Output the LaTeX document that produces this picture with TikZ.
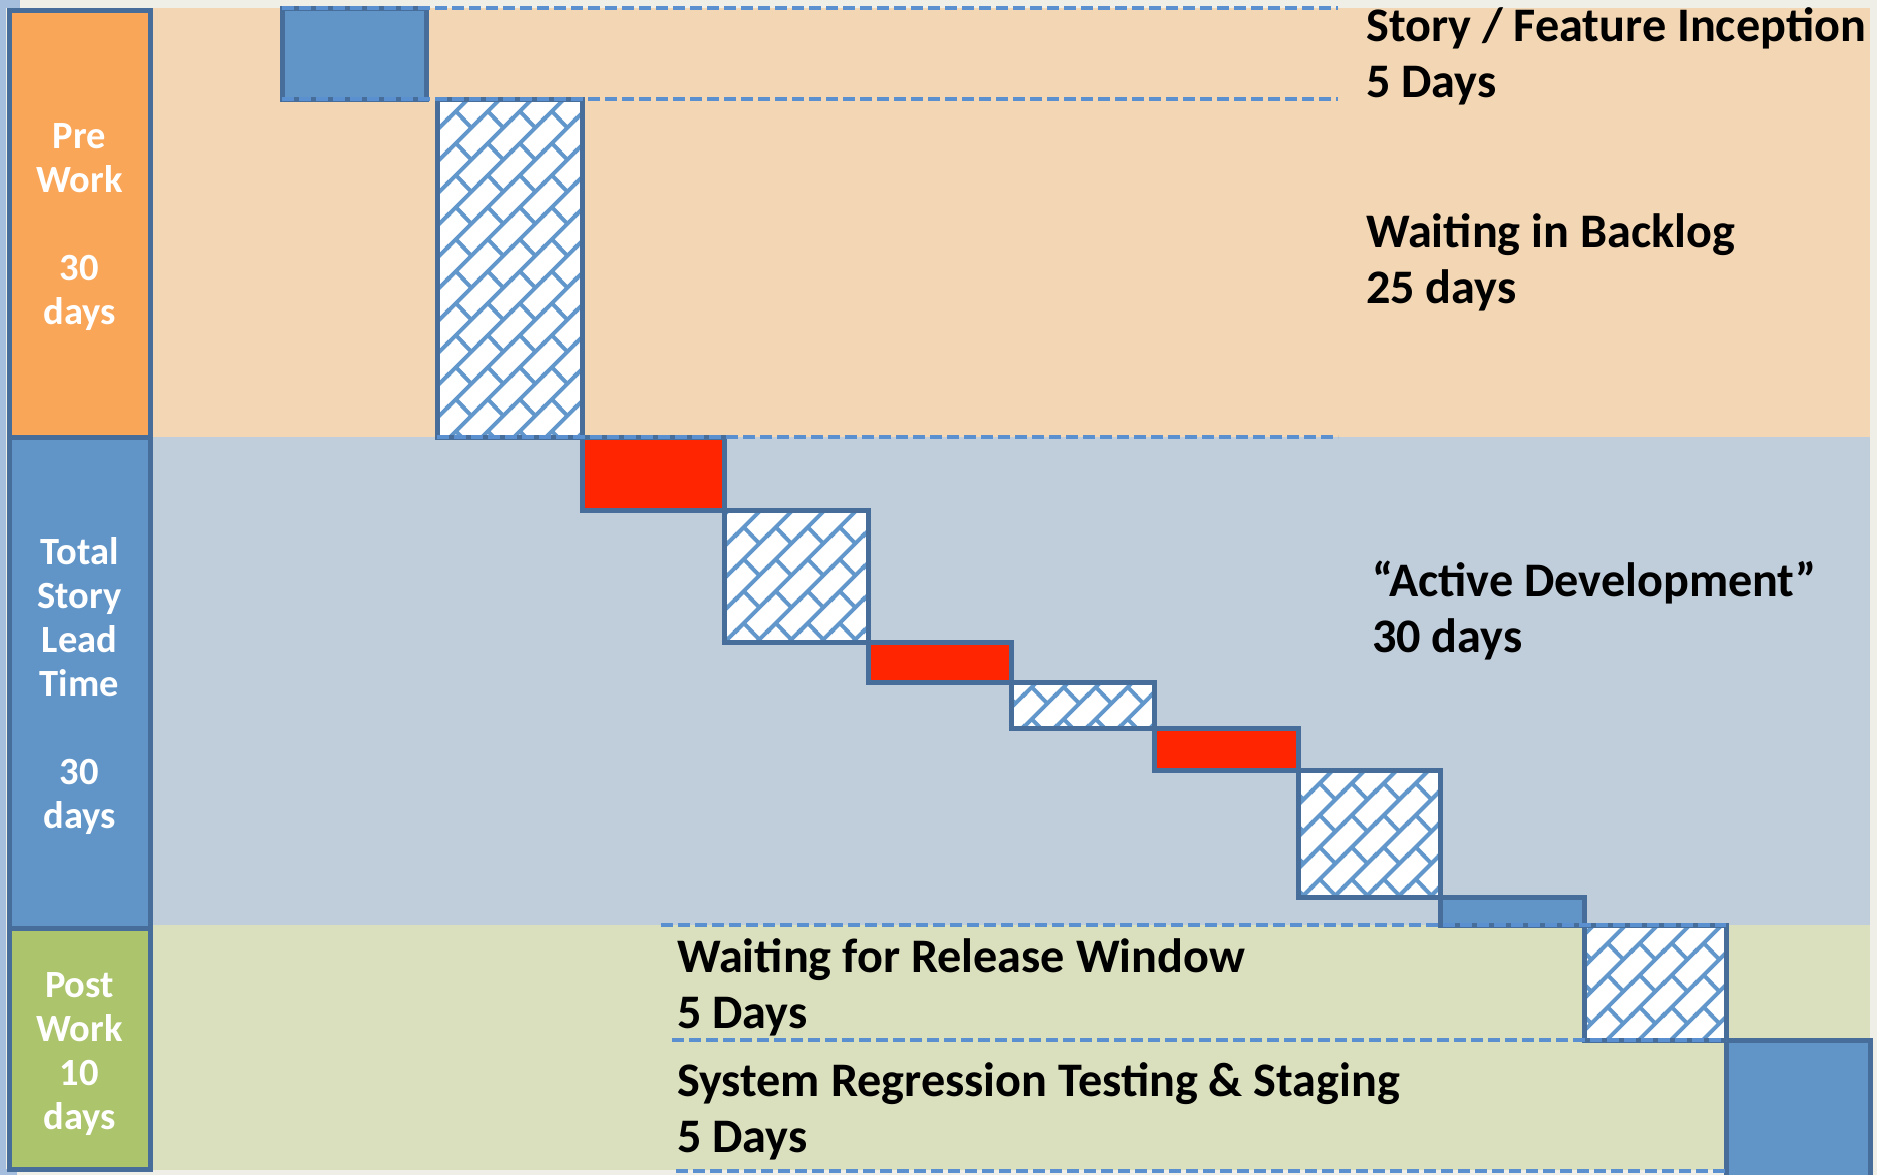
\documentclass[tikz,border=0pt]{standalone}
\usepackage{fontspec}
\setmainfont{Carlito}
\usetikzlibrary{patterns}

\definecolor{bgGray}{HTML}{EFEFE8}
\definecolor{edgeBlue}{HTML}{A5BEDE}
\definecolor{prePeach}{HTML}{F3D7B4}
\definecolor{devGray}{HTML}{C0CDDA}
\definecolor{postSage}{HTML}{DAE0BE}
\definecolor{preOrange}{HTML}{F9A659}
\definecolor{midBlue}{HTML}{6195C8}
\definecolor{postGreen}{HTML}{ACC46C}
\definecolor{frameBlue}{HTML}{476E9B}
\definecolor{workRed}{HTML}{FF2500}
\definecolor{hatchBlue}{HTML}{6297CC}
\definecolor{guideBlue}{HTML}{5B90D0}

% shingle hatch: 45-degree strokes joined by staggered cross ties
\pgfdeclarepatternformonly{shingle}{\pgfpointorigin}{\pgfpoint{32pt}{32pt}}{\pgfpoint{32pt}{32pt}}{
  \pgfsetlinewidth{4pt}
  \pgfpathmoveto{\pgfpoint{-4pt}{-4pt}}\pgfpathlineto{\pgfpoint{36pt}{36pt}}
  \pgfpathmoveto{\pgfpoint{28pt}{-4pt}}\pgfpathlineto{\pgfpoint{36pt}{4pt}}
  \pgfpathmoveto{\pgfpoint{-4pt}{28pt}}\pgfpathlineto{\pgfpoint{4pt}{36pt}}
  \pgfpathmoveto{\pgfpoint{8pt}{8pt}}\pgfpathlineto{\pgfpoint{24pt}{-8pt}}
  \pgfpathmoveto{\pgfpoint{8pt}{40pt}}\pgfpathlineto{\pgfpoint{24pt}{24pt}}
  \pgfusepath{stroke}
}

\tikzset{
  band/.style={inner sep=0pt, outer sep=0pt, anchor=north west},
  phase/.style={draw=frameBlue, line width=5pt, inner sep=0pt, outer sep=0pt, anchor=north west},
  blk/.style={draw=frameBlue, line width=5pt, inner sep=0pt, outer sep=0pt, anchor=north west},
  solidblk/.style={blk, fill=midBlue},
  redblk/.style={blk, fill=workRed},
  waitblk/.style={blk, preaction={fill=white}, pattern=shingle, pattern color=hatchBlue},
  guide/.style={draw=guideBlue, line width=4pt, dash pattern=on 12pt off 5pt},
  % multi-line labels sit on the baseline of their last line
  sidelbl/.style={text=white, align=center, inner sep=0pt, anchor=base,
    font=\fontsize{38.5pt}{44pt}\selectfont\bfseries},
  notelbl/.style={text=black, align=left, inner sep=0pt, anchor=base west,
    font=\fontsize{48.2pt}{55.5pt}\selectfont\bfseries}
}

\begin{document}
\begin{tikzpicture}[x=1pt, y=-1pt]
\useasboundingbox (0,0) rectangle (1877,1175);
\fill[bgGray] (0,0) rectangle (1877,1175);
\fill[edgeBlue] (0,0) rectangle (6,1175);
\fill[edgeBlue] (0,0) rectangle (20,8);
\fill[edgeBlue] (0,1169) rectangle (17,1175);

% background bands
\node[band, fill=prePeach, minimum width=1720pt, minimum height=429pt] (preBand) at (150,8) {};
\node[band, fill=devGray, minimum width=1720pt, minimum height=488pt] (devBand) at (150,437) {};
\node[band, fill=postSage, minimum width=1720pt, minimum height=245pt] (postBand) at (150,925) {};

% phase bars
\node[phase, fill=preOrange, minimum width=141pt, minimum height=427pt] (preBar) at (9,10) {};
\node[phase, fill=midBlue, minimum width=141pt, minimum height=491pt] (leadBar) at (9,437) {};
\node[phase, fill=postGreen, minimum width=141pt, minimum height=241pt] (postBar) at (9,928) {};

% work and wait blocks
\node[solidblk, minimum width=144pt, minimum height=91pt] (inception) at (282,8) {};
\node[waitblk, minimum width=145pt, minimum height=338pt] (backlog) at (437,99) {};
\node[redblk, minimum width=142pt, minimum height=73pt] (devA) at (582,437) {};
\node[waitblk, minimum width=144pt, minimum height=132pt] (waitA) at (724,510) {};
\node[redblk, minimum width=143pt, minimum height=40pt] (devB) at (868,642) {};
\node[waitblk, minimum width=143pt, minimum height=46pt] (waitB) at (1011,682) {};
\node[redblk, minimum width=144pt, minimum height=42pt] (devC) at (1154,728) {};
\node[waitblk, minimum width=142pt, minimum height=127pt] (waitC) at (1298,770) {};
\node[solidblk, minimum width=144pt, minimum height=28pt] (handoff) at (1440,897) {};
\node[waitblk, minimum width=142pt, minimum height=115pt] (release) at (1584,925) {};
\node[solidblk, minimum width=144pt, minimum height=142pt] (staging) at (1726,1040) {};

% guide lines
\coordinate (g1) at (1338,8);
\coordinate (g2) at (1338,99);
\coordinate (g3) at (1338,437);
\coordinate (g4) at (661,925);
\coordinate (g5) at (672,1040);
\coordinate (g6) at (676,1171);
\coordinate (g6e) at (1726,1171);
\draw[guide] (inception.north west) -- (g1);
\draw[guide] (inception.south west) -- (g2);
\draw[guide] (backlog.south west) -- (g3);
\draw[guide] (g4) -- (release.north east);
\draw[guide] (g5) -- (release.south east);
\draw[guide] (g6) -- (g6e);

% phase labels
\node[sidelbl] (preTxt) at (79.5,324) {Pre\\Work\\[44pt]30\\days};
\node[sidelbl] (leadTxt) at (79.5,828) {Total\\Story\\Lead\\Time\\[44pt]30\\days};
\node[sidelbl] (postTxt) at (79.5,1129) {Post\\Work\\10\\days};

% step labels
\node[notelbl] (inceptTxt) at (1366,97) {Story / Feature Inception\\5 Days};
\node[notelbl] (backlogTxt) at (1366,303) {Waiting in Backlog\\25 days};
\node[notelbl] (activeTxt) at (1372,652) {“Active Development”\\30 days};
\node[notelbl] (releaseTxt) at (677,1028) {Waiting for Release Window\\5 Days};
\node[notelbl] (stagingTxt) at (677,1152) {System Regression Testing \& Staging\\5 Days};
\end{tikzpicture}
\end{document}
